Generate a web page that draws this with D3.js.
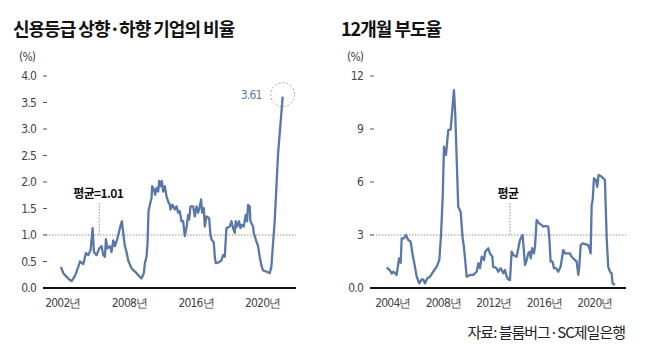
<!DOCTYPE html>
<html>
<head>
<meta charset="utf-8">
<script src="https://cdn.jsdelivr.net/npm/d3@7"></script>
<style>
  body { margin: 0; background: #fff; }
  svg text { font-family: "Noto Sans CJK KR", sans-serif; }
  .tick-label { font-family: "Liberation Sans Narrow", "DejaVu Sans Condensed", "Roboto", sans-serif; font-size: 12px; fill: #444; letter-spacing: -0.8px; }
  .title { font-size: 18px; font-weight: 700; fill: #111; letter-spacing: -1px; }
  .note { font-size: 12px; font-weight: 700; fill: #111; letter-spacing: -0.6px; }
  .line { fill: none; stroke: #5a78a6; stroke-width: 2.3px; stroke-linejoin: round; }
</style>
</head>
<body>
<svg id="chart" width="655" height="361"></svg>
<script>
// left chart: share of companies with credit rating up/down moves (%)
// x is in label steps: 0 = 2002, 1 = 2008, 2 = 2016, 3 = 2020 (labels are evenly spaced)
var leftT = [-0.03,0.005,0.055,0.105,0.13,0.18,0.23,0.255,0.305,0.345,0.38,0.415,0.445,0.465,0.505,0.545,0.58,0.605,0.63,0.645,0.665,0.705,0.73,0.755,0.78,0.815,0.855,0.885,0.905,0.93,0.955,0.98,1.03,1.105,1.155,1.18,1.215,1.23,1.255,1.27,1.285,1.305,1.33,1.34,1.365,1.385,1.405,1.43,1.445,1.465,1.485,1.505,1.53,1.555,1.58,1.605,1.615,1.645,1.68,1.705,1.73,1.755,1.78,1.805,1.83,1.855,1.88,1.895,1.915,1.955,1.98,2.005,2.03,2.055,2.075,2.09,2.115,2.13,2.155,2.195,2.215,2.23,2.265,2.28,2.295,2.33,2.38,2.405,2.43,2.455,2.505,2.53,2.555,2.58,2.595,2.615,2.645,2.665,2.68,2.715,2.745,2.765,2.78,2.805,2.815,2.855,2.865,2.905,2.93,2.955,2.98,3.005,3.055,3.105,3.13,3.155,3.18,3.205,3.23,3.30];
var leftVal = [0.40,0.28,0.21,0.15,0.13,0.23,0.40,0.50,0.45,0.66,0.62,0.72,1.13,0.68,0.62,0.75,0.79,0.62,0.59,0.92,0.75,0.79,0.68,0.90,0.79,0.92,1.13,1.26,1.04,0.79,0.68,0.52,0.37,0.28,0.21,0.18,0.28,0.47,0.59,0.84,1.45,1.57,1.70,1.92,1.86,1.76,1.89,1.82,2.02,1.92,2.02,1.82,1.92,1.73,1.63,1.57,1.48,1.57,1.48,1.54,1.42,1.45,1.26,1.26,0.98,1.13,1.38,1.29,1.54,1.54,1.35,1.54,1.42,1.54,1.67,1.42,1.51,1.16,1.35,1.32,1.01,0.92,0.86,0.59,0.47,0.48,0.52,0.62,0.59,1.13,1.16,1.26,1.13,1.04,1.26,1.16,1.26,1.13,1.19,1.16,1.38,1.26,1.57,1.54,1.26,1.16,1.04,0.88,0.79,0.59,0.43,0.33,0.31,0.28,0.40,0.84,1.26,1.89,2.52,3.61];
var leftXTicks = [0, 1, 2, 3];
var leftXLabels = ["2002년", "2008년", "2016년", "2020년"];
var leftYTicks = [0, 0.5, 1, 1.5, 2, 2.5, 3, 3.5, 4];
var leftMean = 1.0;
var leftMeanLabel = "평균=1.01";
var leftLast = 3.61;

// right chart: 12-month default rate (%), x in years
var rightYear = [2003.50,2003.76,2003.90,2004.02,2004.16,2004.29,2004.48,2004.61,2004.69,2004.87,2005.03,2005.21,2005.40,2005.56,2005.74,2005.88,2006.08,2006.27,2006.40,2006.53,2006.72,2006.93,2007.19,2007.46,2007.67,2007.80,2007.94,2008.04,2008.20,2008.38,2008.57,2008.83,2008.93,2009.17,2009.36,2009.52,2009.62,2009.84,2010.10,2010.36,2010.63,2010.76,2010.89,2011.03,2011.21,2011.31,2011.55,2011.68,2011.87,2011.94,2012.21,2012.34,2012.53,2012.74,2012.87,2013.01,2013.13,2013.27,2013.40,2013.53,2013.80,2013.93,2014.06,2014.27,2014.46,2014.59,2014.72,2014.85,2014.91,2015.03,2015.17,2015.25,2015.38,2015.59,2015.78,2015.91,2016.12,2016.30,2016.38,2016.49,2016.65,2016.75,2016.91,2017.09,2017.28,2017.49,2017.62,2018.02,2018.15,2018.42,2018.55,2018.68,2018.76,2018.87,2019.03,2019.47,2019.60,2019.66,2019.74,2019.82,2019.92,2020.08,2020.18,2020.29,2020.45,2020.66,2020.79,2020.93,2021.05,2021.19,2021.32,2021.40,2021.58];
var rightVal = [1.17,1.00,0.82,0.92,0.85,0.74,1.68,1.43,2.81,2.81,3.00,2.72,2.62,1.87,1.21,0.64,0.26,0.49,0.49,0.26,0.55,0.64,0.92,1.21,1.58,2.90,5.17,8.00,7.53,8.94,8.98,11.20,9.89,4.60,4.32,2.81,2.34,0.64,0.74,0.74,0.92,1.40,1.12,1.77,1.58,2.06,2.25,1.96,1.77,1.21,1.12,0.92,1.12,0.83,1.02,0.64,0.49,0.45,2.06,1.87,1.77,2.25,2.72,3.00,1.30,1.58,1.96,2.06,1.68,2.25,1.96,2.34,3.85,3.66,3.57,3.47,3.51,3.47,2.90,1.49,1.49,1.12,1.12,0.92,1.21,2.15,1.96,1.96,1.77,1.58,1.49,0.74,1.21,2.43,2.53,2.43,2.15,1.96,4.70,4.98,6.21,6.11,5.73,6.40,6.34,6.21,6.11,2.81,1.21,0.92,0.83,0.26,0.17];
var rightXTicks = [2004, 2008, 2012, 2016, 2020];
var rightXLabels = ["2004년", "2008년", "2012년", "2016년", "2020년"];
var rightYTicks = [0, 3, 6, 9, 12];
var rightYLabels = ["0.0", "3", "6", "9", "12"];
var rightMean = 3;
var rightMeanLabel = "평균";
var rightMeanAt = 2013.27;

var svg = d3.select("#chart");

function drawPanel(opt) {
    var g = svg.append("g");
    var x = d3.scaleLinear().domain(opt.xDomain).range(opt.xRange);
    var y = d3.scaleLinear().domain(opt.yDomain).range([288, 76]);

    g.append("text").attr("class", "title")
        .attr("x", opt.titleX).attr("y", 36).text(opt.title);
    g.append("text").attr("class", "tick-label")
        .attr("x", opt.unitX).attr("y", 61).text("(%)");

    // y ticks: label plus a short dash
    opt.yTicks.forEach(function(v, i) {
        g.append("text").attr("class", "tick-label")
            .attr("x", opt.xRange[0] - 7).attr("y", y(v) + 4)
            .attr("text-anchor", "end")
            .text(opt.yLabels ? opt.yLabels[i] : d3.format(".1f")(v));
        if (v > 0) {
            g.append("line")
                .attr("x1", opt.xRange[0]).attr("x2", opt.xRange[0] + 4)
                .attr("y1", y(v)).attr("y2", y(v))
                .attr("stroke", "#555").attr("stroke-width", 1);
        }
    });

    // mean line
    g.append("line")
        .attr("x1", opt.xRange[0]).attr("x2", opt.xRange[1])
        .attr("y1", y(opt.mean)).attr("y2", y(opt.mean))
        .attr("stroke", "#777").attr("stroke-width", 0.8)
        .attr("stroke-dasharray", "1.5,1.5");
    g.append("line")
        .attr("x1", x(opt.meanAt)).attr("x2", x(opt.meanAt))
        .attr("y1", 203).attr("y2", y(opt.mean))
        .attr("stroke", "#777").attr("stroke-width", 0.8)
        .attr("stroke-dasharray", "1.5,1.5");
    g.append("text").attr("class", "note")
        .attr("x", x(opt.meanAt) + opt.noteShift).attr("y", 198)
        .attr("text-anchor", "middle").text(opt.meanLabel);

    // series
    var pts = opt.xs.map(function(d, i) { return [d, opt.ys[i]]; });
    var line = d3.line()
        .x(function(d) { return x(d[0]); })
        .y(function(d) { return y(d[1]); });
    g.append("path").attr("class", "line").attr("d", line(pts));

    // baseline
    g.append("line")
        .attr("x1", opt.xRange[0]).attr("x2", opt.xRange[1])
        .attr("y1", y(0)).attr("y2", y(0))
        .attr("stroke", "#111").attr("stroke-width", 2);

    opt.xTicks.forEach(function(t, i) {
        g.append("text").attr("class", "tick-label")
            .attr("x", x(t)).attr("y", 307)
            .attr("text-anchor", "middle").text(opt.xLabels[i]);
    });

    return { g: g, x: x, y: y };
}

var left = drawPanel({
    title: "신용등급 상향·하향 기업의 비율", titleX: 13, unitX: 19,
    xDomain: [-0.3, 3.5], xRange: [43, 296], yDomain: [0, 4],
    yTicks: leftYTicks, xTicks: leftXTicks, xLabels: leftXLabels,
    mean: leftMean, meanAt: 0.545, meanLabel: leftMeanLabel, noteShift: -1,
    xs: leftT, ys: leftVal
});

var right = drawPanel({
    title: "12개월 부도율", titleX: 341, unitX: 347,
    xDomain: [2002.18, 2022.46], xRange: [370, 626], yDomain: [0, 12],
    yTicks: rightYTicks, yLabels: rightYLabels, xTicks: rightXTicks, xLabels: rightXLabels,
    mean: rightMean, meanAt: rightMeanAt, meanLabel: rightMeanLabel, noteShift: -2,
    xs: rightYear, ys: rightVal
});

// highlight of the latest value on the left
var lx = left.x(leftT[leftT.length - 1]), ly = left.y(leftLast);
left.g.append("circle")
    .attr("cx", lx).attr("cy", ly - 2).attr("r", 12)
    .attr("fill", "none").attr("stroke", "#999")
    .attr("stroke-width", 0.9).attr("stroke-dasharray", "2,2");
left.g.append("text").attr("class", "tick-label")
    .attr("x", lx - 21).attr("y", ly + 2)
    .attr("text-anchor", "end").style("fill", "#5a78a6")
    .text(d3.format(".2f")(leftLast));

svg.append("text")
    .attr("x", 625).attr("y", 338).attr("text-anchor", "end")
    .style("font-size", "15px").style("fill", "#222").style("letter-spacing", "-1px")
    .text("자료: 블룸버그·SC제일은행");
</script>
</body>
</html>
